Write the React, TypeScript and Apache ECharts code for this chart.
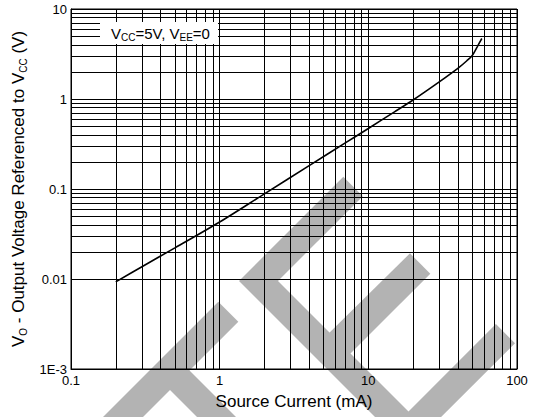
import React, { useEffect, useRef } from "react";
import * as echarts from "echarts";

// Source current (mA)
const currentMA = [0.2, 0.3, 0.5, 1, 2, 4, 7, 10, 15, 20, 30, 40, 46, 50, 54, 58];
// Output voltage referenced to Vcc (V)
const outputV = [0.0093, 0.0137, 0.0222, 0.043, 0.0884, 0.182, 0.325, 0.47, 0.72, 0.975, 1.55, 2.19, 2.66, 3.05, 3.8, 4.7];

const xMinorGrid = [0.2, 0.3, 0.4, 0.5, 0.6, 0.7, 0.8, 0.9, 2, 3, 4, 5, 6, 7, 8, 9, 20, 30, 40, 50, 60, 70, 80, 90];
const yMinorGrid = [
  0.002, 0.003, 0.004, 0.005, 0.006, 0.007, 0.008, 0.009,
  0.02, 0.03, 0.04, 0.05, 0.06, 0.07, 0.08, 0.09,
  0.2, 0.3, 0.4, 0.5, 0.6, 0.7, 0.8, 0.9,
  2, 3, 4, 5, 6, 7, 8, 9,
];
const xTickLabels: Record<string, string> = { "-1": "0.1", "0": "1", "1": "10", "2": "100" };
const yTickLabels: Record<string, string> = { "-3": "1E-3", "-2": "0.01", "-1": "0.1", "0": "1", "1": "10" };

const FONT = "'Liberation Sans', Arial, Helvetica, sans-serif";
const WM = "#b3b3b3";

export default function App() {
  const ref = useRef<HTMLDivElement>(null);
  useEffect(() => {
    if (!ref.current) return;
    const chart = echarts.init(ref.current, undefined, { renderer: "svg" });
    const gridLine = { color: "#000", width: 1, type: "solid" as const };
    const option: any = {
      animation: false,
      backgroundColor: "#fff",
      textStyle: { fontFamily: FONT },
      grid: { left: 71, top: 9, right: 23, bottom: 48, show: true, borderColor: "#000", borderWidth: 1, backgroundColor: "transparent" },
      xAxis: {
        type: "log",
        logBase: 10,
        min: 0.1,
        max: 100,
        axisLine: { show: true, lineStyle: { color: "#000" } },
        axisTick: { show: false },
        splitLine: { show: true, lineStyle: gridLine },
        axisLabel: {
          color: "#000",
          fontSize: 13,
          fontFamily: FONT,
          margin: 5,
          formatter: (v: number) => xTickLabels[String(Math.round(Math.log10(v)))] ?? "",
        },
        name: "Source Current (mA)",
        nameLocation: "middle",
        nameGap: 24,
        nameTextStyle: { color: "#000", fontSize: 17, fontFamily: FONT },
      },
      yAxis: {
        type: "log",
        logBase: 10,
        min: 0.001,
        max: 10,
        axisLine: { show: true, lineStyle: { color: "#000" } },
        axisTick: { show: false },
        splitLine: { show: true, lineStyle: gridLine },
        axisLabel: {
          color: "#000",
          fontSize: 13,
          fontFamily: FONT,
          margin: 4,
          formatter: (v: number) => yTickLabels[String(Math.round(Math.log10(v)))] ?? "",
        },
        name: "{m|V}{s|O}{m| - Output Voltage Referenced to V}{s|CC}{m| (V)}",
        nameLocation: "middle",
        nameRotate: 90,
        nameGap: 33,
        nameTextStyle: {
          color: "#000",
          fontFamily: FONT,
          rich: {
            m: { fontSize: 17, lineHeight: 20, color: "#000", fontFamily: FONT },
            s: { fontSize: 10, lineHeight: 10, verticalAlign: "bottom", color: "#000", fontFamily: FONT },
          },
        },
      },
      series: [
        {
          type: "line",
          data: currentMA.map((x, i) => [x, outputV[i]]),
          showSymbol: false,
          smooth: 0.3,
          lineStyle: { color: "#000", width: 1.6 },
          z: 5,
          markLine: {
            silent: true,
            symbol: ["none", "none"],
            label: { show: false },
            lineStyle: gridLine,
            emphasis: { disabled: true },
            data: [
              ...xMinorGrid.map((v) => ({ xAxis: v })),
              ...yMinorGrid.map((v) => ({ yAxis: v })),
            ],
          },
        },
      ],
      graphic: [
        // watermark (decorative)
        { type: "polygon", z: -1, shape: { points: [[218.3, 301.7], [238.3, 321.7], [100, 460], [60, 460]] }, style: { fill: WM } },
        { type: "polygon", z: -1, shape: { points: [[179.5, 360.5], [279, 460], [240, 460], [160, 380]] }, style: { fill: WM } },
        {
          type: "polygon",
          z: -1,
          shape: {
            points: [
              [343.3, 176.7], [239, 281], [408, 450], [515, 343.3],
              [495.9, 324.1], [408.5, 411.5], [278, 281], [362.8, 196.2],
            ],
          },
          style: { fill: WM },
        },
        { type: "polygon", z: -1, shape: { points: [[410, 253.3], [430.3, 273.7], [342, 362], [321, 341]] }, style: { fill: WM } },
        // condition box
        { type: "rect", z: 100, shape: { x: 100, y: 22, width: 118, height: 22 }, style: { fill: "#fff" } },
        {
          type: "text",
          z: 101,
          x: 111,
          y: 33,
          style: {
            text: "{m|V}{s|CC}{m|=5V, V}{s|EE}{m|=0}",
            verticalAlign: "middle",
            fontFamily: FONT,
            rich: {
              m: { fontSize: 15, lineHeight: 18, fill: "#000", fontFamily: FONT },
              s: { fontSize: 10, lineHeight: 10, verticalAlign: "bottom", fill: "#000", fontFamily: FONT },
            },
          },
        },
      ],
    };
    chart.setOption(option);
    return () => chart.dispose();
  }, []);
  return <div ref={ref} style={{ position: "fixed", left: 0, top: 0, width: 540, height: 417 }} />;
}
